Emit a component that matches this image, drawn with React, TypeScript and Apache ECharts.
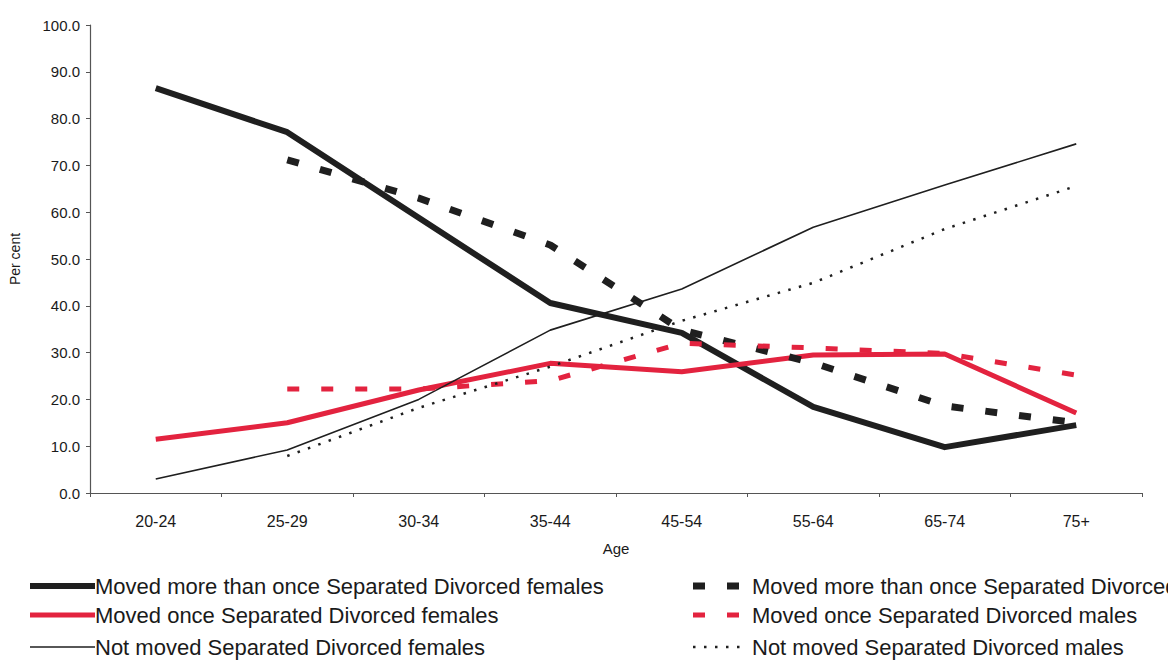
import React, { useEffect, useRef } from "react";
import * as echarts from "echarts";

const ageGroups = ["20-24", "25-29", "30-34", "35-44", "45-54", "55-64", "65-74", "75+"];

const movedMoreFemales = [86.5, 77.1, 58.8, 40.6, 34.2, 18.4, 9.8, 14.5];
const movedOnceFemales = [11.5, 15.0, 22.0, 27.7, 25.9, 29.5, 29.7, 17.1];
const notMovedFemales = [3.0, 9.2, 20.0, 34.8, 43.6, 56.8, 65.8, 74.6];
const movedMoreMales = [null, 71.2, 63.0, 53.0, 34.8, 27.8, 18.6, 15.0];
const movedOnceMales = [null, 22.2, 22.2, 24.0, 32.0, 31.0, 29.8, 25.2];
const notMovedMales = [null, 7.9, 18.2, 27.0, 36.8, 44.9, 56.4, 65.6];

const names = [
  "Moved more than once Separated Divorced females",
  "Moved once Separated Divorced females",
  "Not moved Separated Divorced females",
  "Moved more than once Separated Divorced males",
  "Moved once Separated Divorced males",
  "Not moved Separated Divorced males",
];

const BLACK = "#1f1f1f";
const RED = "#e3233f";
const FONT = "'Liberation Sans', Arial, Helvetica, sans-serif";

type Style = { color: string; width: number; dash: number[] | null };
const styles: Style[] = [
  { color: BLACK, width: 6, dash: null },
  { color: RED, width: 5, dash: null },
  { color: BLACK, width: 1.6, dash: null },
  { color: BLACK, width: 7, dash: [12, 22] },
  { color: RED, width: 5, dash: [12, 22] },
  { color: BLACK, width: 2.5, dash: [2.5, 8.5] },
];
const seriesData = [movedMoreFemales, movedOnceFemales, notMovedFemales, movedMoreMales, movedOnceMales, notMovedMales];

export default function App() {
  const ref = useRef<HTMLDivElement>(null);

  useEffect(() => {
    if (!ref.current) return;
    const chart = echarts.init(ref.current, undefined, { renderer: "svg" });

    // Legend drawn by hand: two columns of three keys each
    const rowsY = [586, 615, 647];
    const legendItems: any[] = [];
    names.forEach((name, i) => {
      const col = i < 3 ? 0 : 1;
      const y = rowsY[i % 3];
      const st = styles[i];
      const x0 = col === 0 ? 30 : 693;
      const x1 = col === 0 ? 95 : 748;
      legendItems.push({
        type: "line",
        shape: { x1: x0, y1: y, x2: x1, y2: y },
        style: { stroke: st.color, lineWidth: st.width, lineDash: st.dash || undefined, lineCap: "butt" },
      });
      legendItems.push({
        type: "text",
        x: col === 0 ? 95 : 752,
        y,
        style: {
          text: name,
          fontSize: 22,
          fontFamily: FONT,
          fill: "#1a1a1a",
          textVerticalAlign: "middle",
          verticalAlign: "middle",
        },
      });
    });

    chart.setOption({
      animation: false,
      backgroundColor: "#ffffff",
      textStyle: { fontFamily: FONT },
      grid: { left: 88, right: 26, top: 25, bottom: 167, containLabel: false },
      graphic: legendItems,
      xAxis: {
        type: "category",
        data: ageGroups,
        boundaryGap: true,
        name: "Age",
        nameLocation: "middle",
        nameGap: 48,
        nameTextStyle: { fontSize: 15, color: "#1a1a1a" },
        axisLine: { lineStyle: { color: "#555", width: 1.2 } },
        axisTick: { show: true, length: 4, inside: false, lineStyle: { color: "#555" } },
        axisLabel: { fontSize: 16, color: "#1a1a1a", margin: 20 },
      },
      yAxis: {
        type: "value",
        min: 0,
        max: 100,
        interval: 10,
        name: "Per cent",
        nameLocation: "middle",
        nameGap: 68,
        nameTextStyle: { fontSize: 14, color: "#1a1a1a" },
        axisLine: { show: true, lineStyle: { color: "#555", width: 1.2 } },
        axisTick: { show: true, length: 4, lineStyle: { color: "#555" } },
        axisLabel: {
          fontSize: 15,
          color: "#1a1a1a",
          margin: 10,
          formatter: (v: number) => v.toFixed(1),
        },
        splitLine: { show: false },
      },
      series: names.map((name, i) => ({
        name,
        type: "line",
        data: seriesData[i],
        symbol: "none",
        connectNulls: false,
        lineStyle: {
          color: styles[i].color,
          width: styles[i].width,
          type: styles[i].dash || "solid",
          cap: "butt",
          join: "round",
        },
        itemStyle: { color: styles[i].color },
      })),
    });

    return () => chart.dispose();
  }, []);

  return <div ref={ref} style={{ width: 1168, height: 660, position: "absolute", left: 0, top: 0 }} />;
}
